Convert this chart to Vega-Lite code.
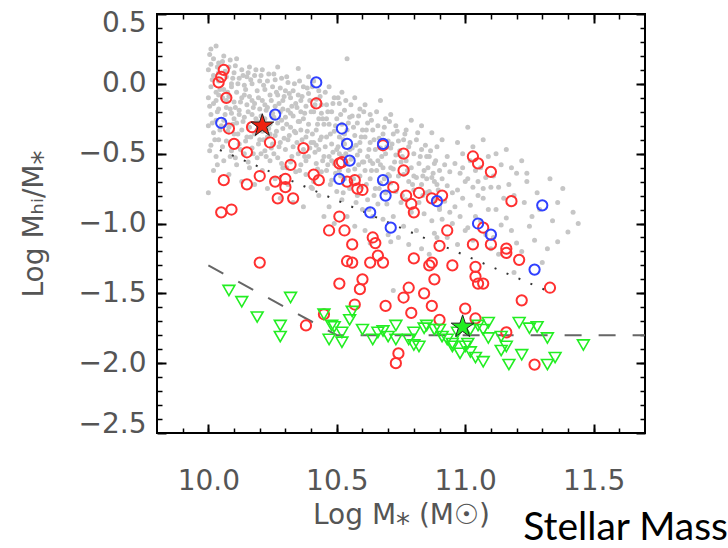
{
"$schema": "https://vega.github.io/schema/vega-lite/v6.json",
"width": 488, "height": 419,
"autosize": "none",
"padding": {"left": 157, "top": 14, "right": 83, "bottom": 115},
"background": "white",
"config": {
  "view": {"stroke": "black", "strokeWidth": 2},
  "axis": {"domain": false, "grid": false, "labelFont": "DejaVu Sans", "labelFontSize": 28, "labelColor": "#555", "titleFont": "DejaVu Sans", "titleFontSize": 28, "titleColor": "#555", "titleFontWeight": "normal", "tickColor": "black", "tickWidth": 2}
},
"title": {"text": "Stellar Mass", "orient": "bottom", "anchor": "end", "font": "Lato", "fontSize": 39, "fontWeight": "normal", "color": "black", "dx": 79, "offset": -20},
"resolve": {"axis": {"x": "independent", "y": "independent"}},
"datasets": {
"gray": [
{"x":10.01,"y":0.25},{"x":10.03,"y":0.27},{"x":10.02,"y":0.18},{"x":10.04,"y":0.15},{"x":10.00,"y":0.10},{"x":10.02,"y":0.06},{"x":10.04,"y":0.02},{"x":10.01,"y":-0.02},{"x":10.03,"y":-0.06},{"x":10.00,"y":-0.10},{"x":10.02,"y":-0.14},{"x":10.04,"y":-0.18},{"x":10.01,"y":-0.22},{"x":10.03,"y":-0.26},{"x":10.00,"y":-0.30},{"x":10.02,"y":-0.35},{"x":10.04,"y":-0.40},{"x":10.01,"y":-0.44},{"x":10.03,"y":-0.52},{"x":10.02,"y":-0.62},{"x":10.00,"y":-0.78},{"x":10.04,"y":0.08},{"x":10.03,"y":-0.12},{"x":10.01,"y":0.14},{"x":10.05,"y":-0.30},{"x":10.04,"y":-0.08},
{"x":10.06,"y":0.20},{"x":10.08,"y":0.12},{"x":10.07,"y":0.05},{"x":10.09,"y":0.00},{"x":10.06,"y":-0.04},{"x":10.08,"y":-0.09},{"x":10.10,"y":-0.13},{"x":10.07,"y":-0.17},{"x":10.09,"y":-0.21},{"x":10.06,"y":-0.26},{"x":10.08,"y":-0.31},{"x":10.10,"y":-0.36},{"x":10.07,"y":-0.41},{"x":10.09,"y":-0.48},{"x":10.06,"y":-0.55},{"x":10.08,"y":-0.65},{"x":10.10,"y":0.08},{"x":10.07,"y":-0.12},{"x":10.09,"y":-0.02},{"x":10.10,"y":-0.25},
{"x":10.11,"y":0.18},{"x":10.13,"y":0.10},{"x":10.12,"y":0.04},{"x":10.14,"y":-0.01},{"x":10.11,"y":-0.06},{"x":10.13,"y":-0.10},{"x":10.15,"y":-0.15},{"x":10.12,"y":-0.19},{"x":10.14,"y":-0.24},{"x":10.11,"y":-0.28},{"x":10.13,"y":-0.33},{"x":10.15,"y":-0.38},{"x":10.12,"y":-0.43},{"x":10.14,"y":-0.50},{"x":10.11,"y":-0.58},{"x":10.13,"y":-0.70},{"x":10.15,"y":0.05},{"x":10.12,"y":-0.22},{"x":10.14,"y":-0.08},
{"x":10.16,"y":0.12},{"x":10.18,"y":0.06},{"x":10.17,"y":0.00},{"x":10.19,"y":-0.05},{"x":10.16,"y":-0.09},{"x":10.18,"y":-0.14},{"x":10.20,"y":-0.18},{"x":10.17,"y":-0.22},{"x":10.19,"y":-0.27},{"x":10.16,"y":-0.31},{"x":10.18,"y":-0.36},{"x":10.20,"y":-0.40},{"x":10.17,"y":-0.46},{"x":10.19,"y":-0.53},{"x":10.16,"y":-0.60},{"x":10.18,"y":-0.72},{"x":10.20,"y":0.02},{"x":10.17,"y":-0.12},{"x":10.19,"y":-0.33},
{"x":10.21,"y":0.10},{"x":10.23,"y":0.02},{"x":10.22,"y":-0.04},{"x":10.24,"y":-0.08},{"x":10.21,"y":-0.12},{"x":10.23,"y":-0.17},{"x":10.25,"y":-0.21},{"x":10.22,"y":-0.25},{"x":10.24,"y":-0.29},{"x":10.21,"y":-0.34},{"x":10.23,"y":-0.38},{"x":10.25,"y":-0.43},{"x":10.22,"y":-0.48},{"x":10.24,"y":-0.55},{"x":10.21,"y":-0.62},{"x":10.23,"y":-0.75},{"x":10.25,"y":-0.02},{"x":10.22,"y":-0.15},{"x":10.24,"y":-0.36},
{"x":10.27,"y":0.12},{"x":10.26,"y":0.03},{"x":10.28,"y":-0.03},{"x":10.27,"y":-0.08},{"x":10.29,"y":-0.12},{"x":10.26,"y":-0.16},{"x":10.28,"y":-0.20},{"x":10.30,"y":-0.24},{"x":10.27,"y":-0.28},{"x":10.29,"y":-0.32},{"x":10.26,"y":-0.37},{"x":10.28,"y":-0.42},{"x":10.30,"y":-0.47},{"x":10.27,"y":-0.53},{"x":10.29,"y":-0.60},{"x":10.26,"y":-0.68},{"x":10.28,"y":-0.82},{"x":10.30,"y":-0.05},{"x":10.29,"y":-0.18},
{"x":10.35,"y":0.11},{"x":10.31,"y":0.01},{"x":10.33,"y":-0.05},{"x":10.32,"y":-0.10},{"x":10.34,"y":-0.14},{"x":10.31,"y":-0.19},{"x":10.33,"y":-0.23},{"x":10.35,"y":-0.27},{"x":10.32,"y":-0.31},{"x":10.34,"y":-0.35},{"x":10.31,"y":-0.40},{"x":10.33,"y":-0.45},{"x":10.35,"y":-0.50},{"x":10.32,"y":-0.56},{"x":10.34,"y":-0.63},{"x":10.31,"y":-0.72},{"x":10.33,"y":-0.85},{"x":10.35,"y":-0.08},{"x":10.32,"y":-0.21},
{"x":10.37,"y":-0.02},{"x":10.39,"y":-0.07},{"x":10.36,"y":-0.12},{"x":10.38,"y":-0.16},{"x":10.40,"y":-0.20},{"x":10.37,"y":-0.25},{"x":10.39,"y":-0.29},{"x":10.36,"y":-0.33},{"x":10.38,"y":-0.38},{"x":10.40,"y":-0.42},{"x":10.37,"y":-0.47},{"x":10.39,"y":-0.52},{"x":10.36,"y":-0.58},{"x":10.38,"y":-0.65},{"x":10.40,"y":-0.74},{"x":10.37,"y":-0.88},{"x":10.39,"y":0.05},{"x":10.36,"y":-0.20},{"x":10.38,"y":-0.55},
{"x":10.41,"y":0.02},{"x":10.43,"y":-0.05},{"x":10.42,"y":-0.11},{"x":10.44,"y":-0.15},{"x":10.41,"y":-0.20},{"x":10.43,"y":-0.25},{"x":10.45,"y":-0.29},{"x":10.42,"y":-0.33},{"x":10.44,"y":-0.38},{"x":10.41,"y":-0.42},{"x":10.43,"y":-0.47},{"x":10.45,"y":-0.52},{"x":10.42,"y":-0.57},{"x":10.44,"y":-0.63},{"x":10.41,"y":-0.70},{"x":10.43,"y":-0.80},{"x":10.45,"y":-0.95},{"x":10.44,"y":-0.21},{"x":10.42,"y":-0.44},
{"x":10.47,"y":-0.02},{"x":10.49,"y":-0.10},{"x":10.46,"y":-0.15},{"x":10.48,"y":-0.20},{"x":10.50,"y":-0.25},{"x":10.47,"y":-0.29},{"x":10.49,"y":-0.34},{"x":10.46,"y":-0.38},{"x":10.48,"y":-0.43},{"x":10.50,"y":-0.47},{"x":10.47,"y":-0.52},{"x":10.49,"y":-0.57},{"x":10.46,"y":-0.62},{"x":10.48,"y":-0.69},{"x":10.50,"y":-0.77},{"x":10.47,"y":-0.88},{"x":10.49,"y":-1.00},{"x":10.46,"y":-0.25},{"x":10.48,"y":-0.55},
{"x":10.54,"y":0.18},{"x":10.52,"y":-0.06},{"x":10.51,"y":-0.14},{"x":10.53,"y":-0.19},{"x":10.55,"y":-0.24},{"x":10.52,"y":-0.29},{"x":10.54,"y":-0.33},{"x":10.51,"y":-0.38},{"x":10.53,"y":-0.43},{"x":10.55,"y":-0.47},{"x":10.52,"y":-0.52},{"x":10.54,"y":-0.57},{"x":10.51,"y":-0.62},{"x":10.53,"y":-0.68},{"x":10.55,"y":-0.75},{"x":10.52,"y":-0.83},{"x":10.54,"y":-0.95},{"x":10.53,"y":-0.36},{"x":10.51,"y":-0.50},
{"x":10.57,"y":-0.10},{"x":10.59,"y":-0.18},{"x":10.56,"y":-0.23},{"x":10.58,"y":-0.28},{"x":10.60,"y":-0.33},{"x":10.57,"y":-0.37},{"x":10.59,"y":-0.42},{"x":10.56,"y":-0.46},{"x":10.58,"y":-0.51},{"x":10.60,"y":-0.56},{"x":10.57,"y":-0.61},{"x":10.59,"y":-0.66},{"x":10.56,"y":-0.72},{"x":10.58,"y":-0.80},{"x":10.60,"y":-0.90},{"x":10.57,"y":-1.02},{"x":10.59,"y":-0.48},
{"x":10.61,"y":-0.15},{"x":10.63,"y":-0.22},{"x":10.62,"y":-0.28},{"x":10.64,"y":-0.33},{"x":10.61,"y":-0.38},{"x":10.63,"y":-0.42},{"x":10.65,"y":-0.47},{"x":10.62,"y":-0.52},{"x":10.64,"y":-0.57},{"x":10.61,"y":-0.62},{"x":10.63,"y":-0.68},{"x":10.65,"y":-0.75},{"x":10.62,"y":-0.83},{"x":10.64,"y":-0.95},{"x":10.61,"y":-1.05},{"x":10.63,"y":-0.55},{"x":10.63,"y":-1.14},
{"x":10.67,"y":-0.12},{"x":10.69,"y":-0.25},{"x":10.66,"y":-0.30},{"x":10.68,"y":-0.36},{"x":10.70,"y":-0.41},{"x":10.67,"y":-0.46},{"x":10.69,"y":-0.50},{"x":10.66,"y":-0.55},{"x":10.68,"y":-0.60},{"x":10.70,"y":-0.65},{"x":10.67,"y":-0.71},{"x":10.69,"y":-0.78},{"x":10.66,"y":-0.86},{"x":10.68,"y":-0.97},{"x":10.70,"y":-1.08},{"x":10.67,"y":-0.58},
{"x":10.71,"y":-0.22},{"x":10.73,"y":-0.30},{"x":10.72,"y":-0.36},{"x":10.74,"y":-0.41},{"x":10.71,"y":-0.46},{"x":10.73,"y":-0.51},{"x":10.75,"y":-0.56},{"x":10.72,"y":-0.61},{"x":10.74,"y":-0.66},{"x":10.71,"y":-0.71},{"x":10.73,"y":-0.77},{"x":10.75,"y":-0.85},{"x":10.72,"y":-0.95},{"x":10.74,"y":-1.10},{"x":10.71,"y":-0.60},{"x":10.71,"y":-1.13},{"x":10.72,"y":-1.48},
{"x":10.79,"y":-0.26},{"x":10.77,"y":-0.33},{"x":10.76,"y":-0.40},{"x":10.78,"y":-0.45},{"x":10.80,"y":-0.50},{"x":10.77,"y":-0.55},{"x":10.79,"y":-0.60},{"x":10.76,"y":-0.65},{"x":10.78,"y":-0.70},{"x":10.80,"y":-0.76},{"x":10.77,"y":-0.83},{"x":10.79,"y":-0.92},{"x":10.76,"y":-1.02},{"x":10.78,"y":-1.15},{"x":10.80,"y":-0.66},
{"x":10.83,"y":-0.30},{"x":10.81,"y":-0.40},{"x":10.83,"y":-0.47},{"x":10.85,"y":-0.52},{"x":10.82,"y":-0.57},{"x":10.84,"y":-0.62},{"x":10.81,"y":-0.67},{"x":10.83,"y":-0.72},{"x":10.85,"y":-0.78},{"x":10.82,"y":-0.85},{"x":10.84,"y":-0.93},{"x":10.81,"y":-1.05},{"x":10.83,"y":-1.18},{"x":10.85,"y":-0.68},
{"x":10.87,"y":-0.35},{"x":10.89,"y":-0.45},{"x":10.86,"y":-0.52},{"x":10.88,"y":-0.57},{"x":10.90,"y":-0.62},{"x":10.87,"y":-0.67},{"x":10.89,"y":-0.72},{"x":10.86,"y":-0.77},{"x":10.88,"y":-0.83},{"x":10.90,"y":-0.90},{"x":10.87,"y":-0.98},{"x":10.89,"y":-1.10},{"x":10.86,"y":-1.22},{"x":10.88,"y":-0.70},
{"x":10.93,"y":-0.52},{"x":10.91,"y":-0.40},{"x":10.92,"y":-0.58},{"x":10.94,"y":-0.63},{"x":10.91,"y":-0.68},{"x":10.93,"y":-0.73},{"x":10.95,"y":-0.78},{"x":10.92,"y":-0.84},{"x":10.94,"y":-0.92},{"x":10.91,"y":-0.97},{"x":10.95,"y":-1.00},{"x":10.88,"y":-1.07},{"x":10.93,"y":-1.10},{"x":10.90,"y":-0.88},
{"x":10.97,"y":-0.42},{"x":10.99,"y":-0.50},{"x":10.96,"y":-0.57},{"x":10.98,"y":-0.64},{"x":11.00,"y":-0.70},{"x":10.97,"y":-0.76},{"x":10.99,"y":-0.82},{"x":10.96,"y":-0.88},{"x":10.98,"y":-0.95},{"x":11.00,"y":-1.05},{"x":10.97,"y":-1.15},{"x":10.99,"y":-0.60},
{"x":11.01,"y":-0.31},{"x":11.03,"y":-0.45},{"x":11.02,"y":-0.55},{"x":11.04,"y":-0.62},{"x":11.01,"y":-0.68},{"x":11.03,"y":-0.74},{"x":11.05,"y":-0.80},{"x":11.02,"y":-0.87},{"x":11.04,"y":-0.95},{"x":11.01,"y":-1.03},{"x":11.03,"y":-1.12},{"x":11.05,"y":-0.70},
{"x":11.07,"y":-0.40},{"x":11.09,"y":-0.52},{"x":11.06,"y":-0.60},{"x":11.08,"y":-0.67},{"x":11.10,"y":-0.74},{"x":11.07,"y":-0.82},{"x":11.09,"y":-0.90},{"x":11.06,"y":-0.98},{"x":11.08,"y":-1.08},{"x":11.10,"y":-1.18},{"x":11.07,"y":-0.75},
{"x":11.12,"y":-0.50},{"x":11.14,"y":-0.58},{"x":11.11,"y":-0.66},{"x":11.13,"y":-0.74},{"x":11.15,"y":-0.82},{"x":11.12,"y":-0.90},{"x":11.14,"y":-1.01},{"x":11.11,"y":-1.10},{"x":11.13,"y":-1.22},
{"x":11.16,"y":-0.47},{"x":11.18,"y":-0.60},{"x":11.20,"y":-0.64},{"x":11.17,"y":-0.72},{"x":11.19,"y":-0.80},{"x":11.16,"y":-0.96},{"x":11.18,"y":-1.05},{"x":11.20,"y":-1.14},{"x":11.19,"y":-1.35},
{"x":11.22,"y":-0.55},{"x":11.24,"y":-0.70},{"x":11.26,"y":-0.95},{"x":11.23,"y":-0.85},{"x":11.28,"y":-0.78},{"x":11.25,"y":-1.02},{"x":11.27,"y":-1.12},{"x":11.30,"y":-1.28},{"x":11.22,"y":-1.20},{"x":11.29,"y":-0.90},{"x":11.24,"y":-0.64},
{"x":11.33,"y":-0.68},{"x":11.36,"y":-0.85},{"x":11.40,"y":-1.06},{"x":11.36,"y":-1.13},{"x":11.34,"y":-0.98},{"x":11.42,"y":-0.92},{"x":11.32,"y":-1.18},{"x":11.38,"y":-0.75},{"x":11.44,"y":-1.00},
{"x":10.005,"y":0.21},{"x":10.035,"y":0.12},{"x":10.015,"y":0.03},{"x":10.045,"y":-0.04},{"x":10.005,"y":-0.16},{"x":10.035,"y":-0.20},{"x":10.015,"y":-0.28},{"x":10.045,"y":-0.33},{"x":10.025,"y":-0.40},{"x":10.005,"y":-0.48},{"x":10.035,"y":-0.58},
{"x":10.055,"y":0.16},{"x":10.085,"y":0.17},{"x":10.065,"y":0.09},{"x":10.095,"y":0.04},{"x":10.075,"y":-0.06},{"x":10.055,"y":-0.10},{"x":10.085,"y":-0.18},{"x":10.065,"y":-0.22},{"x":10.095,"y":-0.29},{"x":10.075,"y":-0.34},{"x":10.055,"y":-0.45},{"x":10.085,"y":-0.52},
{"x":10.105,"y":0.13},{"x":10.135,"y":0.06},{"x":10.115,"y":0.00},{"x":10.145,"y":-0.04},{"x":10.125,"y":-0.13},{"x":10.105,"y":-0.17},{"x":10.135,"y":-0.27},{"x":10.115,"y":-0.36},{"x":10.145,"y":-0.41},{"x":10.125,"y":-0.47},{"x":10.105,"y":-0.53},
{"x":10.155,"y":0.08},{"x":10.185,"y":0.10},{"x":10.165,"y":0.03},{"x":10.195,"y":-0.10},{"x":10.175,"y":-0.17},{"x":10.155,"y":-0.20},{"x":10.185,"y":-0.25},{"x":10.165,"y":-0.38},{"x":10.195,"y":-0.43},{"x":10.175,"y":-0.50},{"x":10.155,"y":-0.56},
{"x":10.205,"y":0.06},{"x":10.235,"y":0.07},{"x":10.215,"y":-0.01},{"x":10.245,"y":-0.12},{"x":10.225,"y":-0.19},{"x":10.205,"y":-0.23},{"x":10.235,"y":-0.32},{"x":10.215,"y":-0.40},{"x":10.245,"y":-0.46},{"x":10.225,"y":-0.52},{"x":10.205,"y":-0.50},
{"x":10.255,"y":0.07},{"x":10.285,"y":0.04},{"x":10.265,"y":-0.06},{"x":10.295,"y":-0.09},{"x":10.275,"y":-0.14},{"x":10.255,"y":-0.24},{"x":10.285,"y":-0.26},{"x":10.265,"y":-0.34},{"x":10.295,"y":-0.39},{"x":10.275,"y":-0.45},{"x":10.255,"y":-0.50},{"x":10.285,"y":-0.57},
{"x":10.305,"y":0.05},{"x":10.335,"y":0.00},{"x":10.315,"y":-0.07},{"x":10.345,"y":-0.17},{"x":10.325,"y":-0.16},{"x":10.305,"y":-0.29},{"x":10.335,"y":-0.34},{"x":10.315,"y":-0.37},{"x":10.345,"y":-0.42},{"x":10.325,"y":-0.52},{"x":10.305,"y":-0.60},
{"x":10.355,"y":0.02},{"x":10.385,"y":-0.03},{"x":10.365,"y":-0.09},{"x":10.395,"y":-0.12},{"x":10.375,"y":-0.21},{"x":10.355,"y":-0.27},{"x":10.385,"y":-0.34},{"x":10.365,"y":-0.40},{"x":10.395,"y":-0.46},{"x":10.375,"y":-0.52},{"x":10.355,"y":-0.62},
{"x":10.405,"y":-0.02},{"x":10.435,"y":-0.09},{"x":10.415,"y":-0.15},{"x":10.445,"y":-0.25},{"x":10.425,"y":-0.29},{"x":10.405,"y":-0.36},{"x":10.435,"y":-0.40},{"x":10.415,"y":-0.49},{"x":10.445,"y":-0.55},{"x":10.425,"y":-0.61},{"x":10.405,"y":-0.75},
{"x":10.455,"y":-0.06},{"x":10.485,"y":-0.14},{"x":10.465,"y":-0.20},{"x":10.495,"y":-0.30},{"x":10.475,"y":-0.36},{"x":10.455,"y":-0.45},{"x":10.485,"y":-0.49},{"x":10.465,"y":-0.58},{"x":10.495,"y":-0.64},{"x":10.475,"y":-0.72},
{"x":10.505,"y":-0.10},{"x":10.535,"y":-0.12},{"x":10.515,"y":-0.22},{"x":10.545,"y":-0.28},{"x":10.525,"y":-0.40},{"x":10.505,"y":-0.45},{"x":10.535,"y":-0.50},{"x":10.515,"y":-0.66},{"x":10.545,"y":-0.62},{"x":10.525,"y":-0.78},
{"x":10.555,"y":-0.15},{"x":10.585,"y":-0.23},{"x":10.565,"y":-0.31},{"x":10.595,"y":-0.38},{"x":10.575,"y":-0.44},{"x":10.555,"y":-0.54},{"x":10.585,"y":-0.58},{"x":10.565,"y":-0.68},{"x":10.595,"y":-0.74},{"x":10.575,"y":-0.85},
{"x":10.605,"y":-0.20},{"x":10.635,"y":-0.26},{"x":10.615,"y":-0.33},{"x":10.645,"y":-0.40},{"x":10.625,"y":-0.47},{"x":10.605,"y":-0.56},{"x":10.635,"y":-0.62},{"x":10.615,"y":-0.72},{"x":10.645,"y":-0.80},{"x":10.625,"y":-0.90},
{"x":10.655,"y":-0.20},{"x":10.685,"y":-0.31},{"x":10.665,"y":-0.39},{"x":10.695,"y":-0.45},{"x":10.675,"y":-0.52},{"x":10.655,"y":-0.62},{"x":10.685,"y":-0.68},{"x":10.665,"y":-0.75},{"x":10.695,"y":-0.86},
{"x":10.705,"y":-0.27},{"x":10.735,"y":-0.34},{"x":10.715,"y":-0.43},{"x":10.745,"y":-0.48},{"x":10.725,"y":-0.56},{"x":10.705,"y":-0.66},{"x":10.765,"y":-0.36},{"x":10.785,"y":-0.42},{"x":10.755,"y":-0.52},{"x":10.775,"y":-0.62},{"x":10.795,"y":-0.72},{"x":10.755,"y":-0.80},
{"x":10.815,"y":-0.35},{"x":10.845,"y":-0.44},{"x":10.825,"y":-0.52},{"x":10.855,"y":-0.60},{"x":10.835,"y":-0.66},{"x":10.865,"y":-0.48},{"x":10.885,"y":-0.55},{"x":10.875,"y":-0.64},{"x":10.895,"y":-0.76},{"x":10.835,"y":-0.80}
],
"red": [
{"x":10.06,"y":0.10},{"x":10.05,"y":0.05},{"x":10.04,"y":0.01},{"x":10.07,"y":-0.10},{"x":10.08,"y":-0.32},{"x":10.17,"y":-0.31},{"x":10.42,"y":-0.14},{"x":10.10,"y":-0.43},{"x":10.15,"y":-0.49},{"x":10.24,"y":-0.42},{"x":10.37,"y":-0.46},{"x":10.32,"y":-0.58},{"x":10.06,"y":-0.69},{"x":10.15,"y":-0.72},{"x":10.20,"y":-0.66},{"x":10.26,"y":-0.70},{"x":10.30,"y":-0.68},{"x":10.30,"y":-0.74},{"x":10.41,"y":-0.65},{"x":10.43,"y":-0.69},{"x":10.27,"y":-0.82},{"x":10.33,"y":-0.82},{"x":10.05,"y":-0.92},{"x":10.09,"y":-0.90},{"x":10.51,"y":-0.57},{"x":10.52,"y":-0.56},{"x":10.51,"y":-0.95},{"x":10.47,"y":-1.05},{"x":10.53,"y":-1.05},{"x":10.54,"y":-0.70},{"x":10.57,"y":-0.69},{"x":10.58,"y":-0.75},{"x":10.60,"y":-0.76},{"x":10.68,"y":-0.44},{"x":10.76,"y":-0.50},{"x":10.76,"y":-0.62},{"x":10.72,"y":-0.74},{"x":10.77,"y":-0.80},{"x":10.82,"y":-0.78},{"x":10.87,"y":-0.82},{"x":10.91,"y":-0.80},{"x":10.79,"y":-0.86},{"x":10.80,"y":-0.92},{"x":10.93,"y":-1.05},{"x":11.03,"y":-0.52},{"x":11.05,"y":-0.57},{"x":11.10,"y":-0.63},{"x":11.18,"y":-0.84},{"x":11.07,"y":-1.03},{"x":10.56,"y":-1.15},{"x":10.64,"y":-1.10},{"x":10.65,"y":-1.14},{"x":10.54,"y":-1.27},{"x":10.56,"y":-1.28},{"x":10.63,"y":-1.28},{"x":10.66,"y":-1.23},{"x":10.68,"y":-1.28},{"x":10.80,"y":-1.25},{"x":10.51,"y":-1.43},{"x":10.60,"y":-1.40},{"x":10.59,"y":-1.47},{"x":10.57,"y":-1.58},{"x":10.45,"y":-1.65},{"x":10.38,"y":-1.73},{"x":10.69,"y":-1.59},{"x":10.78,"y":-1.46},{"x":10.76,"y":-1.53},{"x":10.79,"y":-1.64},{"x":10.84,"y":-1.50},{"x":10.87,"y":-1.59},{"x":10.90,"y":-1.69},{"x":10.86,"y":-1.30},{"x":10.87,"y":-1.28},{"x":10.88,"y":-1.40},{"x":10.90,"y":-1.16},{"x":10.95,"y":-1.30},{"x":11.00,"y":-1.61},{"x":11.03,"y":-1.15},{"x":11.04,"y":-1.31},{"x":11.04,"y":-1.38},{"x":11.05,"y":-1.43},{"x":11.07,"y":-1.43},{"x":11.10,"y":-1.15},{"x":11.16,"y":-1.21},{"x":11.16,"y":-1.18},{"x":11.21,"y":-1.26},{"x":11.33,"y":-1.46},{"x":11.22,"y":-1.55},{"x":11.16,"y":-1.78},{"x":11.27,"y":-2.01},{"x":10.74,"y":-1.93},{"x":10.73,"y":-2.00},{"x":11.04,"y":-1.68},{"x":10.20,"y":-1.28}
],
"blue": [
{"x":10.42,"y":0.01},{"x":10.26,"y":-0.22},{"x":10.05,"y":-0.28},{"x":10.52,"y":-0.32},{"x":10.54,"y":-0.43},{"x":10.68,"y":-0.43},{"x":10.55,"y":-0.55},{"x":10.51,"y":-0.68},{"x":10.68,"y":-0.69},{"x":10.69,"y":-0.80},{"x":10.63,"y":-0.92},{"x":10.71,"y":-1.03},{"x":10.89,"y":-0.84},{"x":11.05,"y":-1.00},{"x":11.10,"y":-1.08},{"x":11.30,"y":-0.87},{"x":11.27,"y":-1.33}
],
"green": [
{"x":10.08,"y":-1.48},{"x":10.13,"y":-1.56},{"x":10.19,"y":-1.67},{"x":10.28,"y":-1.73},{"x":10.28,"y":-1.81},{"x":10.32,"y":-1.53},{"x":10.45,"y":-1.65},{"x":10.48,"y":-1.73},{"x":10.47,"y":-1.83},{"x":10.52,"y":-1.78},{"x":10.52,"y":-1.85},{"x":10.55,"y":-1.69},{"x":10.56,"y":-1.63},{"x":10.60,"y":-1.76},{"x":10.64,"y":-1.83},{"x":10.66,"y":-1.78},{"x":10.68,"y":-1.77},{"x":10.70,"y":-1.81},{"x":10.73,"y":-1.73},{"x":10.73,"y":-1.83},{"x":10.80,"y":-1.78},{"x":10.80,"y":-1.87},{"x":10.82,"y":-1.88},{"x":10.84,"y":-1.75},{"x":10.85,"y":-1.73},{"x":10.88,"y":-1.76},{"x":10.91,"y":-1.81},{"x":10.93,"y":-1.83},{"x":10.95,"y":-1.88},{"x":10.98,"y":-1.93},{"x":11.00,"y":-1.88},{"x":10.97,"y":-1.78},{"x":10.95,"y":-1.86},{"x":11.01,"y":-1.86},{"x":11.02,"y":-1.92},{"x":11.04,"y":-1.96},{"x":11.07,"y":-1.99},{"x":11.02,"y":-1.76},{"x":11.05,"y":-1.73},{"x":11.09,"y":-1.71},{"x":11.07,"y":-1.76},{"x":11.09,"y":-1.82},{"x":11.14,"y":-1.81},{"x":11.14,"y":-1.91},{"x":11.16,"y":-1.88},{"x":11.17,"y":-2.01},{"x":11.21,"y":-1.71},{"x":11.22,"y":-1.94},{"x":11.25,"y":-1.75},{"x":11.28,"y":-1.74},{"x":11.32,"y":-1.82},{"x":11.32,"y":-2.01},{"x":11.35,"y":-1.96},{"x":11.46,"y":-1.87},{"x":10.49,"y":-1.74},{"x":10.78,"y":-1.83},{"x":10.90,"y":-1.76}
],
"stars": [
{"x":10.21,"y":-0.30,"kind":"a"},{"x":10.99,"y":-1.74,"kind":"b"}
],
"dotted": [
{"x":10.045,"y":-0.474},{"x":11.312,"y":-1.476}
],
"dashed": [
{"x":10.0,"y":-1.3},{"x":10.5,"y":-1.8},{"x":11.7,"y":-1.8}
]
},
"layer": [
{
 "data": {"name": "gray"},
 "mark": {"type": "point", "shape": "circle", "filled": true, "size": 25, "color": "#c6c6c6", "opacity": 1},
 "encoding": {
  "x": {"field": "x", "type": "quantitative", "scale": {"domain": [9.8, 11.7], "nice": false, "zero": false},
        "axis": {"orient": "bottom", "values": [10, 10.5, 11, 11.5], "format": ".1f", "tickSize": -9, "labelPadding": 43, "labelFlush": false, "title": "Log M⁎ (M☉)", "titlePadding": 6}},
  "y": {"field": "y", "type": "quantitative", "scale": {"domain": [-2.5, 0.5], "nice": false, "zero": false},
        "axis": {"orient": "left", "values": [-2.5, -2, -1.5, -1, -0.5, 0, 0.5], "format": ".1f", "tickSize": -9, "labelPadding": 20, "labelFlush": true, "labelFlushOffset": 5, "title": "Log Mₕᵢ/M⁎", "titlePadding": 30}}
 }
},
{
 "data": {"name": "dotted"},
 "mark": {"type": "line", "color": "#333", "strokeWidth": 2, "strokeDash": [2, 11]},
 "encoding": {
  "x": {"field": "x", "type": "quantitative", "axis": null},
  "y": {"field": "y", "type": "quantitative", "axis": null}
 }
},
{
 "data": {"name": "dashed"},
 "mark": {"type": "line", "color": "#666", "strokeWidth": 2, "strokeDash": [17, 17]},
 "encoding": {
  "x": {"field": "x", "type": "quantitative", "axis": null},
  "y": {"field": "y", "type": "quantitative", "axis": null}
 }
},
{
 "data": {"name": "red"},
 "mark": {"type": "point", "shape": "circle", "filled": false, "size": 105, "color": "#ff3030", "strokeWidth": 2, "opacity": 1},
 "encoding": {
  "x": {"field": "x", "type": "quantitative",
        "axis": {"orient": "bottom", "values": [9.9, 10.0, 10.1, 10.2, 10.3, 10.4, 10.5, 10.6, 10.7, 10.8, 10.9, 11.0, 11.1, 11.2, 11.3, 11.4, 11.5, 11.6], "tickSize": -5, "tickWidth": 1.5, "labels": false, "title": null}},
  "y": {"field": "y", "type": "quantitative",
        "axis": {"orient": "left", "values": [-2.4, -2.3, -2.2, -2.1, -2.0, -1.9, -1.8, -1.7, -1.6, -1.5, -1.4, -1.3, -1.2, -1.1, -1.0, -0.9, -0.8, -0.7, -0.6, -0.5, -0.4, -0.3, -0.2, -0.1, 0.0, 0.1, 0.2, 0.3, 0.4], "tickSize": -5, "tickWidth": 1.5, "labels": false, "title": null}}
 }
},
{
 "data": {"name": "blue"},
 "mark": {"type": "point", "shape": "circle", "filled": false, "size": 105, "color": "#3040ff", "strokeWidth": 2, "opacity": 1},
 "encoding": {
  "x": {"field": "x", "type": "quantitative",
        "axis": {"orient": "top", "values": [10, 10.5, 11, 11.5], "tickSize": -9, "labels": false, "title": null}},
  "y": {"field": "y", "type": "quantitative",
        "axis": {"orient": "right", "values": [-2.5, -2, -1.5, -1, -0.5, 0, 0.5], "tickSize": -9, "labels": false, "title": null}}
 }
},
{
 "data": {"name": "green"},
 "mark": {"type": "point", "shape": "triangle-down", "filled": false, "size": 140, "color": "#22ee22", "strokeWidth": 1.6, "opacity": 1},
 "encoding": {
  "x": {"field": "x", "type": "quantitative",
        "axis": {"orient": "top", "values": [9.9, 10.0, 10.1, 10.2, 10.3, 10.4, 10.5, 10.6, 10.7, 10.8, 10.9, 11.0, 11.1, 11.2, 11.3, 11.4, 11.5, 11.6], "tickSize": -5, "tickWidth": 1.5, "labels": false, "title": null}},
  "y": {"field": "y", "type": "quantitative",
        "axis": {"orient": "right", "values": [-2.4, -2.3, -2.2, -2.1, -2.0, -1.9, -1.8, -1.7, -1.6, -1.5, -1.4, -1.3, -1.2, -1.1, -1.0, -0.9, -0.8, -0.7, -0.6, -0.5, -0.4, -0.3, -0.2, -0.1, 0.0, 0.1, 0.2, 0.3, 0.4], "tickSize": -5, "tickWidth": 1.5, "labels": false, "title": null}}
 }
},
{
 "data": {"name": "stars"},
 "mark": {"type": "point", "shape": "M0,-1L0.225,-0.309L0.951,-0.309L0.363,0.118L0.588,0.809L0,0.382L-0.588,0.809L-0.363,0.118L-0.951,-0.309L-0.225,-0.309Z", "filled": true, "size": 576, "stroke": "#222", "strokeWidth": 1, "opacity": 1},
 "encoding": {
  "x": {"field": "x", "type": "quantitative", "axis": null},
  "y": {"field": "y", "type": "quantitative", "axis": null},
  "fill": {"field": "kind", "type": "nominal", "scale": {"domain": ["a", "b"], "range": ["#ee2211", "#22ee22"]}, "legend": null}
 }
}
]
}
